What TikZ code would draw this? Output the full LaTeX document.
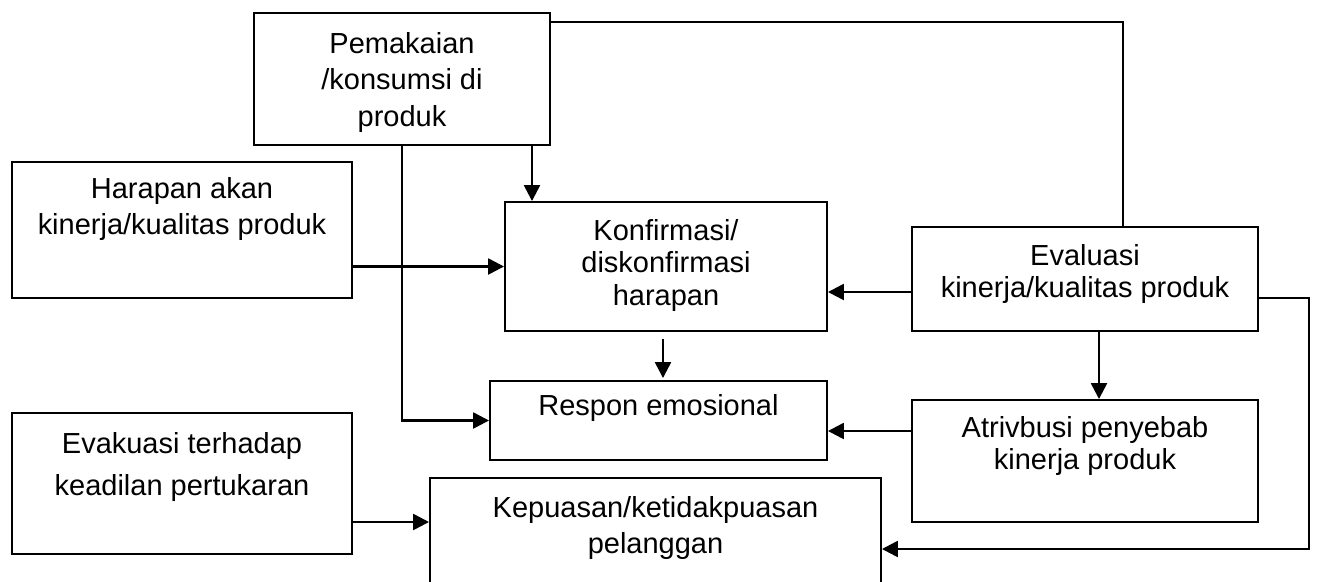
\documentclass[tikz,border=0pt]{standalone}
\usepackage{fontspec}
\setmainfont{Liberation Sans}
\usetikzlibrary{positioning,arrows.meta}

\tikzset{
    box/.style={draw, line width=1.1pt, inner sep=0pt},
    txt/.style={align=center, inner sep=0pt, font=\fontsize{16.5}{18.5}\selectfont},
    wide/.style={font=\fontsize{16.5}{20.8}\selectfont},
    wider/.style={font=\fontsize{16.5}{24}\selectfont},
    arr/.style={-{Triangle[length=9pt,width=9pt]}, line width=1.4pt},
    ln/.style={line width=1.4pt}
}

\begin{document}
\begin{tikzpicture}
                \useasboundingbox (0,0) rectangle (26.34,-11.62);
                \clip (0,0) rectangle (26.34,-11.62);

                \node[box, minimum width=5.92cm, minimum height=2.64cm] (pemakaian) at (8.04,-1.58) {};
                \node[box, minimum width=6.8cm, minimum height=2.72cm] (harapan) at (3.64,-4.6) {};
                \node[box, minimum width=6.44cm, minimum height=2.58cm] (konfirmasi) at (13.32,-5.33) {};
                \node[box, minimum width=6.92cm, minimum height=2.08cm] (evaluasi) at (21.7,-5.58) {};
                \node[box, minimum width=6.74cm, minimum height=1.58cm] (respon) at (13.17,-8.41) {};
                \node[box, minimum width=6.92cm, minimum height=2.44cm] (atribusi) at (21.7,-9.22) {};
                \node[box, minimum width=6.8cm, minimum height=2.82cm] (evakuasi) at (3.64,-9.67) {};
                \node[box, minimum width=9.02cm, minimum height=2.84cm] (kepuasan) at (13.11,-10.98) {};

                \node[txt, wide, below=0.4cm of pemakaian.north] (pemakaian-t) {Pemakaian\\/konsumsi di\\produk};
                \node[txt, wide, below=0.32cm of harapan.north] (harapan-t) {Harapan akan\\kinerja/kualitas produk};
                \node[txt, below=0.36cm of konfirmasi.north] (konfirmasi-t) {Konfirmasi/\\diskonfirmasi\\harapan};
                \node[txt, below=0.36cm of evaluasi.north] (evaluasi-t) {Evaluasi\\kinerja/kualitas produk};
                \node[txt, below=0.28cm of respon.north] (respon-t) {Respon emosional};
                \node[txt, below=0.34cm of atribusi.north] (atribusi-t) {Atrivbusi penyebab\\kinerja produk};
                \node[txt, wider, below=0.4cm of evakuasi.north] (evakuasi-t) {Evakuasi terhadap\\keadilan pertukaran};
                \node[txt, wide, below=0.38cm of kepuasan.north] (kepuasan-t) {Kepuasan/ketidakpuasan\\pelanggan};

                \coordinate (kanan) at (26.18,-5.96);

                \draw[ln] ([yshift=-0.2cm]pemakaian.north east) -| ([xshift=0.76cm]evaluasi.north);
                \draw[arr] ([xshift=2.6cm]pemakaian.south) -- ([xshift=2.6cm]pemakaian.south |- konfirmasi.north);
                \draw[arr] (pemakaian.south) |- (respon.west);
                \draw[arr] (konfirmasi.west -| harapan.east) -- (konfirmasi.west);
                \draw[arr] ([yshift=-0.26cm]evaluasi.west) -- ([yshift=-0.26cm]evaluasi.west -| konfirmasi.east);
                \draw[arr, shorten <=0.14cm, shorten >=0.04cm] ([xshift=-0.06cm]konfirmasi.south) -- ([xshift=-0.06cm]konfirmasi.south |- respon.north);
                \draw[arr] ([xshift=0.28cm]evaluasi.south) -- ([xshift=0.28cm]evaluasi.south |- atribusi.north);
                \draw[arr] ([yshift=0.6cm]atribusi.west) -- ([yshift=0.6cm]atribusi.west -| respon.east);
                \draw[arr] ([yshift=-0.77cm]evakuasi.east) -- ([yshift=-0.77cm]evakuasi.east -| kepuasan.west);
                \draw[arr] ([yshift=-0.38cm]evaluasi.east) -- (kanan) |- (kepuasan.east);
            \end{tikzpicture}
\end{document}
